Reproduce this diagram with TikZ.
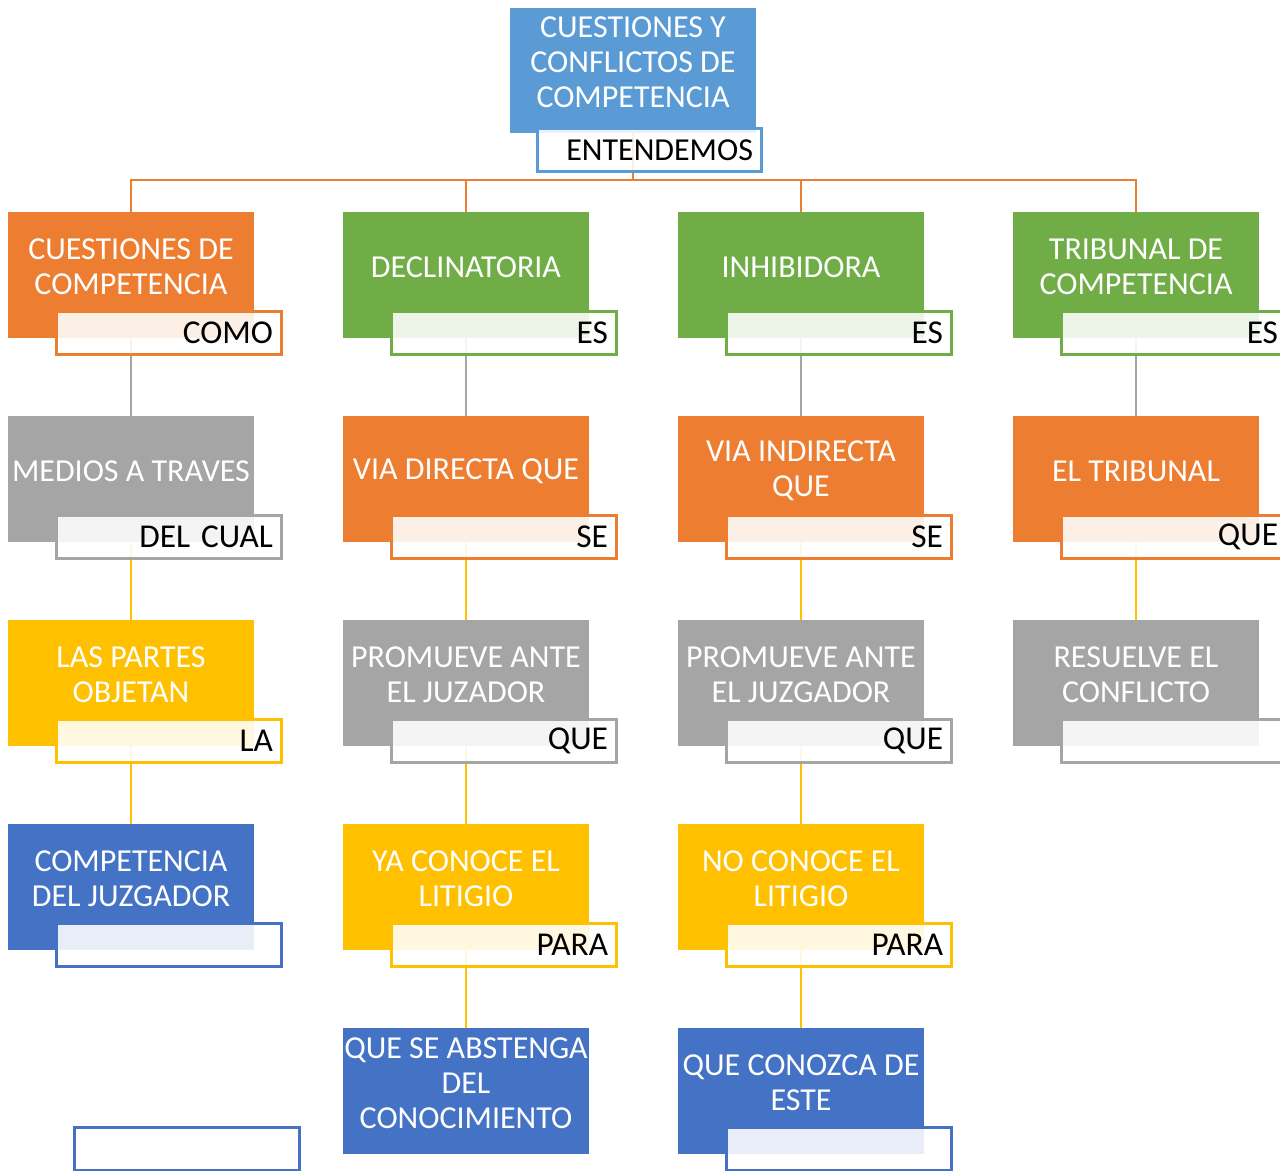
\documentclass[tikz,border=0pt]{standalone}
\usepackage{fontspec}
\setmainfont{Carlito}
\usetikzlibrary{positioning, backgrounds}
\definecolor{mapSky}{HTML}{5B9BD5}
\definecolor{mapOrange}{HTML}{ED7D31}
\definecolor{mapGreen}{HTML}{70AD47}
\definecolor{mapGray}{HTML}{A5A5A5}
\definecolor{mapYellow}{HTML}{FFC000}
\definecolor{mapBlue}{HTML}{4472C4}
\tikzset{
main box/.style = { rectangle, draw = none, minimum width = 184.5pt, minimum height = 94.5pt, inner sep = 0pt },
main text/.style = { white, align = center, inner sep = 0pt, font = \fontsize{24}{26.3}\selectfont },
tag box/.style = { rectangle, fill = white, fill opacity = 0.88, text opacity = 1, line width = 2.25pt, minimum width = 168.75pt, minimum height = 32.25pt, text width = 156.75pt, inner xsep = 6pt, inner ysep = 0pt, align = right, font = \fontsize{25}{27}\selectfont },
link/.style = { line width = 2pt },
}
\tikzset{
pics/concept/.style args={#1, #2, #3}{
        code = {
        \node[main box, fill = #2] (-box) at (0, 0) {};
        \node[main text] (-text) at (0, -8) {#1};
        \node[tag box, draw = #2] (-tag) at (37.5, 57.5) {\mbox{#3}};
        }
    },
pics/bare concept/.style args={#1, #2}{
        code = {
        \node[main box, fill = #2] (-box) at (0, 0) {};
        \node[main text] (-text) at (0, -8) {#1};
        }
    }
}

\begin{document}
\begin{tikzpicture}[x = 0.75pt, y = -0.75pt]
    \useasboundingbox (0, 0) rectangle (1280, 1170);
    % top
    \node[main box, fill = mapSky, minimum height = 93.75pt] (top-box) at (633, 70.5) {};
    \node[main text] (top-text) at (633, 62) {CUESTIONES Y\\CONFLICTOS DE\\COMPETENCIA};
    \node[tag box, draw = mapSky, minimum width = 168pt, text width = 156pt, font = \fontsize{24}{26}\selectfont] (top-tag) at (649, 150) {ENTENDEMOS};
    % column 1
    \pic (c1r1) at (131, 275) {concept = {CUESTIONES DE\\COMPETENCIA, mapOrange, COMO}};
    \pic (c1r2) at (131, 479) {concept = {MEDIOS A TRAVES, mapGray, DEL CUAL}};
    \pic (c1r3) at (131, 683) {concept = {LAS PARTES\\OBJETAN, mapYellow, LA}};
    \pic (c1r4) at (131, 887) {concept = {COMPETENCIA\\DEL JUZGADOR, mapBlue, {}}};
    % column 2
    \pic (c2r1) at (466, 275) {concept = {DECLINATORIA, mapGreen, ES}};
    \pic (c2r2) at (466, 479) {concept = {VIA DIRECTA QUE, mapOrange, SE}};
    \pic (c2r3) at (466, 683) {concept = {PROMUEVE ANTE\\EL JUZADOR, mapGray, QUE}};
    \pic (c2r4) at (466, 887) {concept = {YA CONOCE EL\\LITIGIO, mapYellow, PARA}};
    \pic (c2r5) at (466, 1091) {bare concept = {QUE SE ABSTENGA\\DEL\\CONOCIMIENTO, mapBlue}};
    % column 3
    \pic (c3r1) at (801, 275) {concept = {INHIBIDORA, mapGreen, ES}};
    \pic (c3r2) at (801, 479) {concept = {VIA INDIRECTA\\QUE, mapOrange, SE}};
    \pic (c3r3) at (801, 683) {concept = {PROMUEVE ANTE\\EL JUZGADOR, mapGray, QUE}};
    \pic (c3r4) at (801, 887) {concept = {NO CONOCE EL\\LITIGIO, mapYellow, PARA}};
    \pic (c3r5) at (801, 1091) {concept = {QUE CONOZCA DE\\ESTE, mapBlue, {}}};
    % column 4
    \pic (c4r1) at (1136, 275) {concept = {TRIBUNAL DE\\COMPETENCIA, mapGreen, ES}};
    \pic (c4r2) at (1136, 479) {concept = {EL TRIBUNAL, mapOrange, QUE}};
    \pic (c4r3) at (1136, 683) {concept = {RESUELVE EL\\CONFLICTO, mapGray, {}}};
    % loose empty tag
    \node[tag box, draw = mapBlue] (loose-tag) at (187, 1148.5) {};
    % connectors
    \begin{scope}[on background layer]
        \coordinate (bus) at (633, 180);
        \foreach \col in {1,...,4} {
            \draw[link, mapOrange] (top-box.south) -- (top-box.south |- bus) -| (c\col r1-box.north);
            \draw[link, mapGray] (c\col r1-box.south) -- (c\col r2-box.north);
            \draw[link, mapYellow] (c\col r2-box.south) -- (c\col r3-box.north);
        }
        \foreach \col in {1,...,3}
            \draw[link, mapYellow] (c\col r3-box.south) -- (c\col r4-box.north);
        \foreach \col in {2,3}
            \draw[link, mapYellow] (c\col r4-box.south) -- (c\col r5-box.north);
    \end{scope}
\end{tikzpicture}
\end{document}
